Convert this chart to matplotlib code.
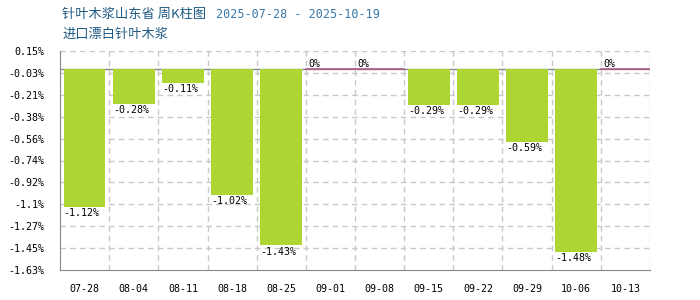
#周K柱图: 进口漂白针叶木浆 (山东省)
import numpy as np
import matplotlib
matplotlib.use("Agg")
import matplotlib.pyplot as plt

plt.rcParams['font.family'] = ['Noto Sans CJK SC', 'DejaVu Sans']

weeks = ["07-28", "08-04", "08-11", "08-18", "08-25", "09-01",
         "09-08", "09-15", "09-22", "09-29", "10-06", "10-13"]
changes = [-1.12, -0.28, -0.11, -1.02, -1.43, 0, 0, -0.29, -0.29, -0.59, -1.48, 0]
tick_labels = ["0.15%", "-0.03%", "-0.21%", "-0.38%", "-0.56%", "-0.74%",
               "-0.92%", "-1.1%", "-1.27%", "-1.45%", "-1.63%"]

mono = "DejaVu Sans Mono"
fig = plt.figure(figsize=(7, 3), dpi=100)
ax = fig.add_axes([60/700, 30/300, 590/700, 219/300])

x = np.arange(len(weeks))
bw = 0.85
ax.bar(x, changes, width=bw, color="#add633", zorder=3)

ymin, ymax = -1.63, 0.15
ax.set_ylim(ymin, ymax)
ax.set_xlim(-0.5, len(weeks) - 0.5)
ax.set_yticks(np.linspace(ymax, ymin, 11))
ax.set_yticklabels(tick_labels, fontsize=7.2, family=mono)
ax.set_xticks(x)
ax.set_xticklabels(weeks, fontsize=7.2, family=mono)
ax.tick_params(length=0)
ax.tick_params(axis='y', pad=11)
ax.tick_params(axis='x', pad=10)

# grid
for yv in np.linspace(ymax, ymin, 11)[:-1]:
    ax.axhline(yv, color="#c8c8c8", lw=1, ls=(0, (4, 3)), zorder=1)
for xv in np.arange(0.5, len(weeks) + 0.5, 1):
    ax.axvline(xv, color="#c8c8c8", lw=1, ls=(0, (4, 3)), zorder=1)

ax.axhline(0, color="#888888", lw=1, zorder=2)

for i, v in enumerate(changes):
    if v == 0:
        ax.plot([i - 0.5, i + 0.5], [0, 0], color="#b05a8a", lw=1.2, zorder=4)
        ax.text(i - 0.45, 0.005, "0%", fontsize=7.2, family=mono, va="bottom", ha="left")
    else:
        ax.text(i - bw/2, v - 0.01, f"{v:.2f}%", fontsize=7.2, family=mono, va="top", ha="left")

for s in ["top", "right"]:
    ax.spines[s].set_visible(False)
ax.spines["left"].set_color("#888888")
ax.spines["bottom"].set_color("#888888")

fig.text(62/700, 1 - 14/300, "针叶木浆山东省 周K柱图", fontsize=9.5, color="#1e5a82", va="center")
fig.text(216/700, 1 - 14/300, "2025-07-28 - 2025-10-19", fontsize=8.5, color="#3a78a8",
         va="center", family=mono)
fig.text(62/700, 1 - 34/300, "进口漂白针叶木浆", fontsize=9.5, color="#1e5a82", va="center")

fig.savefig("out.png", dpi=100)
